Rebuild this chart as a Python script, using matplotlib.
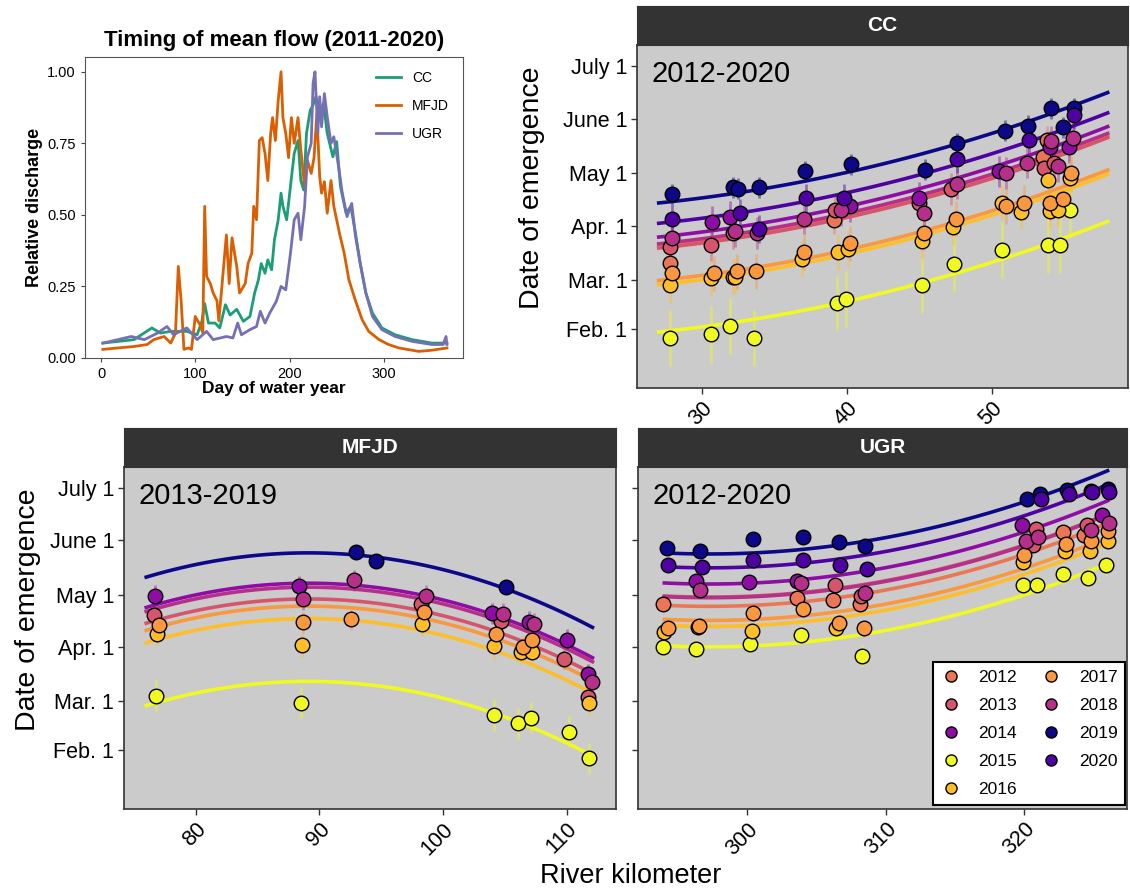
import numpy as np
import matplotlib.pyplot as plt
from matplotlib.ticker import FormatStrFormatter
from matplotlib.lines import Line2D

plt.rcParams['font.family'] = ['Liberation Sans', 'DejaVu Sans']

# ---- mean daily flow (relative to max), day of water year ----
cc_day = [2, 35, 54, 63, 74, 91, 102, 107, 110, 114, 121, 126, 132, 137, 144, 151, 158, 163, 167,
          170, 174, 177, 181, 184, 188, 191, 193, 197, 201, 205, 209, 212, 215, 218, 222, 225, 228,
          232, 236, 240, 246, 250, 254, 260, 265, 270, 275, 281, 288, 298, 312, 330, 351, 367]
cc_q = [0.052, 0.064, 0.105, 0.087, 0.093, 0.093, 0.081, 0.128, 0.19, 0.122, 0.122, 0.105, 0.186,
        0.15, 0.17, 0.128, 0.145, 0.227, 0.273, 0.33, 0.296, 0.343, 0.308, 0.413, 0.483, 0.576,
        0.53, 0.483, 0.6, 0.715, 0.76, 0.62, 0.587, 0.785, 0.866, 0.884, 0.913, 0.855, 0.89, 0.785,
        0.703, 0.756, 0.6, 0.506, 0.53, 0.436, 0.33, 0.227, 0.157, 0.105, 0.081, 0.064, 0.052, 0.052]

mfjd_day = [2, 18, 35, 49, 56, 67, 74, 79, 82, 85, 88, 93, 96, 100, 105, 108, 110, 112, 116, 119,
            123, 125, 128, 133, 136, 139, 144, 147, 153, 156, 160, 162, 165, 168, 171, 174, 177,
            180, 182, 185, 188, 191, 193, 196, 199, 202, 205, 209, 212, 216, 219, 223, 226, 229,
            232, 234, 237, 240, 244, 247, 253, 258, 263, 270, 277, 284, 295, 305, 316, 337, 351, 367]
mfjd_q = [0.03, 0.035, 0.04, 0.047, 0.064, 0.075, 0.052, 0.087, 0.32, 0.2, 0.03, 0.035, 0.03,
          0.145, 0.116, 0.087, 0.53, 0.285, 0.26, 0.227, 0.2, 0.13, 0.24, 0.43, 0.26, 0.42, 0.32,
          0.227, 0.26, 0.33, 0.366, 0.53, 0.483, 0.76, 0.77, 0.715, 0.62, 0.785, 0.84, 0.76, 0.9,
          1.0, 0.84, 0.785, 0.70, 0.84, 0.75, 0.84, 0.727, 0.6, 0.69, 0.645, 0.70, 0.855, 0.634,
          0.576, 0.616, 0.506, 0.62, 0.53, 0.436, 0.366, 0.273, 0.2, 0.134, 0.093, 0.064, 0.047,
          0.035, 0.023, 0.027, 0.035]

ugr_day = [2, 18, 32, 46, 60, 70, 77, 91, 102, 112, 119, 133, 140, 145, 149, 158, 165, 169, 174,
           179, 186, 191, 196, 201, 205, 209, 212, 216, 219, 223, 225, 227, 230, 232, 234, 237,
           240, 244, 247, 252, 256, 261, 266, 270, 275, 281, 288, 298, 312, 330, 351, 363, 366, 367]
ugr_q = [0.052, 0.064, 0.075, 0.064, 0.087, 0.11, 0.081, 0.105, 0.064, 0.093, 0.064, 0.075, 0.07,
         0.122, 0.081, 0.099, 0.11, 0.163, 0.122, 0.157, 0.198, 0.25, 0.238, 0.366, 0.483, 0.506,
         0.413, 0.53, 0.703, 0.75, 0.96, 1.0, 0.785, 0.913, 0.808, 0.924, 0.843, 0.75, 0.773,
         0.669, 0.576, 0.494, 0.54, 0.424, 0.331, 0.227, 0.145, 0.099, 0.075, 0.058, 0.047, 0.047,
         0.075, 0.047]

# ---- emergence dates (day of year) by river km, per year ----
cc_pts = {
    2012: [(27.8, 70), (39.1, 94), (53.5, 130), (53.8, 140)],
    2013: [(27.8, 79), (30.6, 80), (32.1, 87), (39.2, 100), (45.0, 104), (47.2, 112), (53.6, 124), (54.3, 127)],
    2014: [(30.7, 93), (31.9, 96), (40.2, 102), (45.0, 107), (50.5, 122), (54.0, 136), (55.3, 136)],
    2015: [(27.8, 27), (30.6, 29), (31.9, 34), (33.6, 27), (39.3, 47), (39.9, 49), (45.2, 57), (47.4, 69),
           (50.7, 77), (53.9, 80), (54.7, 80), (55.4, 100)],
    2016: [(27.8, 57), (30.6, 61), (32.1, 62), (32.3, 62), (36.9, 72), (39.4, 76), (40.1, 78), (45.2, 82),
           (47.3, 90), (50.7, 104), (52.0, 99), (53.9, 117), (54.0, 99.5), (54.6, 100), (55.4, 118)],
    2017: [(27.9, 64), (30.8, 64), (32.4, 65), (33.7, 65), (37.0, 76), (40.2, 81), (45.3, 87), (47.5, 95),
           (51.0, 102), (52.2, 104), (54.0, 104), (54.9, 106), (55.5, 121)],
    2018: [(27.9, 84), (32.3, 88), (33.8, 87), (37.0, 95), (39.6, 100), (45.3, 98), (47.6, 115), (51.0, 121),
           (52.4, 127), (54.1, 139), (54.6, 125), (55.6, 141)],
    2019: [(27.9, 109), (32.1, 113), (32.5, 112), (33.9, 113), (37.1, 122), (40.3, 126), (45.4, 123),
           (47.6, 138), (50.9, 145), (52.5, 148), (54.1, 158), (54.9, 147), (55.7, 158)],
    2020: [(27.9, 95), (32.6, 98), (33.9, 89), (37.2, 107), (39.8, 107), (47.6, 129), (52.6, 140), (55.7, 154)],
}
mfjd_pts = {
    2013: [(76.6, 109.5), (98.2, 115.5), (104.7, 106.2), (109.8, 84.3), (111.7, 62.7)],
    2014: [(76.7, 120.5), (88.4, 125.7), (104.0, 110.4), (107.0, 105.6), (110.0, 95.2), (111.7, 75.5)],
    2015: [(76.8, 63.3), (88.5, 59.3), (104.1, 52.2), (106.1, 47.5), (107.1, 50.7), (110.2, 42.7), (111.8, 27.4)],
    2016: [(76.9, 98.4), (88.6, 92.3), (98.3, 104.3), (104.1, 91.4), (106.3, 88.5), (107.2, 88.5), (111.8, 59.3)],
    2017: [(77.0, 103.4), (88.7, 105.3), (92.6, 107.0), (98.5, 111.3), (104.3, 98.4), (106.5, 91.3), (107.2, 95.2)],
    2018: [(88.7, 118.4), (92.8, 129.1), (98.6, 120.3), (104.9, 110.2), (107.4, 104.3), (112.1, 71.3)],
    2019: [(93.0, 145.1), (94.6, 140.0), (105.1, 125.3)],
}
ugr_pts = {
    2012: [(293.9, 115.6), (303.6, 119.0), (306.2, 117.7), (308.1, 115.6), (322.8, 156.8), (324.3, 155.3)],
    2013: [(306.3, 126.6), (308.2, 120.5), (320.6, 149.5), (320.8, 158.7), (324.5, 160.6)],
    2014: [(296.3, 129.0), (300.1, 128.5), (303.6, 129.0), (319.8, 160.6), (325.6, 166.7)],
    2015: [(293.9, 90.8), (296.3, 89.8), (300.2, 92.9), (303.9, 98.0), (308.3, 86.2), (319.9, 126.6),
           (320.9, 126.6), (322.8, 132.7), (324.6, 130.8), (325.9, 137.7)],
    2016: [(294.0, 99.5), (296.4, 102.6), (300.3, 100.5), (306.4, 101.8), (319.9, 139.6), (322.9, 145.7),
           (324.7, 145.7), (326.0, 151.8)],
    2017: [(294.3, 102.2), (296.5, 102.8), (300.4, 110.8), (304.0, 112.7), (306.6, 105.0), (308.4, 101.8),
           (320.0, 143.4), (323.0, 149.9), (324.8, 151.8), (326.0, 157.5)],
    2018: [(296.6, 123.8), (303.9, 127.8), (308.5, 121.9), (320.1, 151.8), (321.0, 153.7), (324.8, 157.9),
           (326.1, 161.9)],
    2019: [(294.2, 147.6), (296.6, 145.7), (300.4, 152.8), (304.0, 153.7), (306.6, 150.9), (308.5, 148.6),
           (320.2, 175.7), (321.1, 178.5), (323.1, 180.6), (324.8, 180.0), (326.0, 181.6)],
    2020: [(294.3, 137.7), (296.7, 136.6), (300.4, 141.0), (304.0, 141.0), (306.7, 137.7), (308.6, 135.8),
           (321.2, 175.7), (323.2, 178.5), (324.9, 179.7), (326.1, 179.7)],
}
# half-width of the error bars (days)
cc_err = {2012: 8, 2013: 9, 2014: 9, 2015: 16, 2016: 10, 2017: 10, 2018: 9, 2019: 6, 2020: 8}
mfjd_err = {2013: 6, 2014: 6, 2015: 9, 2016: 7, 2017: 6, 2018: 6, 2019: 4}
ugr_err = {2012: 4, 2013: 4, 2014: 4, 2015: 6, 2016: 4, 2017: 5, 2018: 4, 2019: 4, 2020: 4}

# river km range of the fitted curves
cc_span = (27.0, 58.0)
mfjd_span = (76.0, 112.1)
ugr_span = (294.0, 326.0)

years = [2012, 2013, 2014, 2015, 2016, 2017, 2018, 2019, 2020]
plasma_pos = [0.66, 0.55, 0.30, 1.0, 0.86, 0.76, 0.42, 0.0, 0.13]
cmap = plt.get_cmap('plasma')
ycol = {y: cmap(p) for y, p in zip(years, plasma_pos)}

date_ticks = [32, 60, 91, 121, 152, 182]
date_labels = ['Feb. 1', 'Mar. 1', 'Apr. 1', 'May 1', 'June 1', 'July 1']


def fit_curves(pts, span):
    # quadratic in rkm, shared shape, one intercept per year
    yrs = sorted(pts)
    x0 = np.mean(span)
    rows, obs = [], []
    for i, yr in enumerate(yrs):
        for x, d in pts[yr]:
            dummy = [0.0] * len(yrs)
            dummy[i] = 1.0
            rows.append(dummy + [x - x0, (x - x0) ** 2])
            obs.append(d)
    coef = np.linalg.lstsq(np.array(rows), np.array(obs), rcond=None)[0]
    xs = np.linspace(span[0], span[1], 120)
    return {yr: (xs, coef[i] + coef[-2] * (xs - x0) + coef[-1] * (xs - x0) ** 2)
            for i, yr in enumerate(yrs)}


def facet(rect, name, pts, err, span, xlim, xticks, yearlab, ylab_x=None):
    ax = fig.add_axes(rect)
    ax.set_facecolor('#cbcbcb')
    curves = fit_curves(pts, span)
    for yr in sorted(pts):
        xs = [p[0] for p in pts[yr]]
        ds = [p[1] for p in pts[yr]]
        ax.vlines(xs, np.array(ds) - err[yr], np.array(ds) + err[yr], color=ycol[yr],
                  lw=2, alpha=0.45, zorder=2)
    for yr in sorted(pts):
        cx, cy = curves[yr]
        ax.plot(cx, cy, color=ycol[yr], lw=2.6, zorder=3)
    for yr in sorted(pts):
        xs = [p[0] for p in pts[yr]]
        ds = [p[1] for p in pts[yr]]
        ax.scatter(xs, ds, s=110, color=ycol[yr], edgecolor='black', lw=1, zorder=4)
    ax.set_xlim(*xlim)
    ax.set_ylim(-1.5, 194)
    ax.set_xticks(xticks)
    ax.set_xticklabels([str(t) for t in xticks], rotation=45, ha='right', rotation_mode='anchor')
    ax.set_yticks(date_ticks)
    if ylab_x is not None:
        ax.set_yticklabels(date_labels)
        ax.set_ylabel('Date of emergence', fontsize=20.5)
        ax.yaxis.set_label_coords(ylab_x, 0.583)
    else:
        ax.set_yticklabels([])
    ax.tick_params(direction='out', length=4, width=1, color='#333333', labelsize=15.5,
                   labelcolor='black', pad=3)
    for s in ax.spines.values():
        s.set_color('#333333')
        s.set_linewidth(1.2)
    ax.text(0.03, 0.955, yearlab, transform=ax.transAxes, fontsize=21, va='top', ha='left')
    # facet strip on top
    l, b, w, h = rect
    st = fig.add_axes([l, b + h, w, 0.044])
    st.set_facecolor('#333333')
    st.set_xticks([])
    st.set_yticks([])
    for s in st.spines.values():
        s.set_color('#333333')
    st.text(0.5, 0.5, name, color='white', fontsize=15, fontweight='bold',
            ha='center', va='center', transform=st.transAxes)
    return ax


fig = plt.figure(figsize=(11.3, 8.94), dpi=100)

# mean flow timing
ax0 = fig.add_axes([0.0752, 0.5996, 0.3345, 0.3367])
ax0.plot(cc_day, cc_q, color='#1b9e77', lw=2, label='CC')
ax0.plot(mfjd_day, mfjd_q, color='#d95f02', lw=2, label='MFJD')
ax0.plot(ugr_day, ugr_q, color='#7570b3', lw=2, label='UGR')
ax0.set_xlim(-17, 384)
ax0.set_ylim(0, 1.052)
ax0.set_xticks([0, 100, 200, 300])
ax0.set_yticks([0, 0.25, 0.5, 0.75, 1.0])
ax0.yaxis.set_major_formatter(FormatStrFormatter('%.2f'))
ax0.tick_params(direction='out', length=3, labelsize=10.5, color='#444444')
for s in ax0.spines.values():
    s.set_color('#555555')
ax0.set_title('Timing of mean flow (2011-2020)', fontsize=16, fontweight='bold', pad=8)
ax0.set_xlabel('Day of water year', fontsize=12.5, fontweight='bold', labelpad=0)
ax0.set_ylabel('Relative discharge', fontsize=13, fontweight='bold', labelpad=3)
ax0.legend(loc='upper right', frameon=False, fontsize=10, handlelength=1.8, borderaxespad=0.6,
           labelspacing=1.0)

facet([0.5637, 0.566, 0.4345, 0.3837], 'CC', cc_pts, cc_err, cc_span,
      (25.5, 59.4), [30, 40, 50], '2012-2020', ylab_x=-0.187)
facet([0.1097, 0.0951, 0.4354, 0.3826], 'MFJD', mfjd_pts, mfjd_err, mfjd_span,
      (74.2, 114.0), [80, 90, 100, 110], '2013-2019', ylab_x=-0.169)
ax_u = facet([0.5646, 0.0951, 0.4327, 0.3826], 'UGR', ugr_pts, ugr_err, ugr_span,
             (292.1, 327.4), [300, 310, 320], '2012-2020')

handles = [Line2D([], [], ls='none', marker='o', ms=8, mfc=ycol[y], mec='black', mew=1)
           for y in years]
leg = ax_u.legend(handles, [str(y) for y in years], ncol=2, loc='lower right',
                  bbox_to_anchor=(0.997, 0.011), borderaxespad=0, fontsize=12.5, frameon=True,
                  fancybox=False, edgecolor='black', framealpha=1, labelspacing=0.75,
                  handlelength=1.2, handletextpad=1.0, columnspacing=1.35, borderpad=0.45)
leg.get_frame().set_linewidth(1.5)

fig.text(0.558, 0.006, 'River kilometer', fontsize=19.5, ha='center', va='bottom')

fig.savefig('out.png', dpi=100)
